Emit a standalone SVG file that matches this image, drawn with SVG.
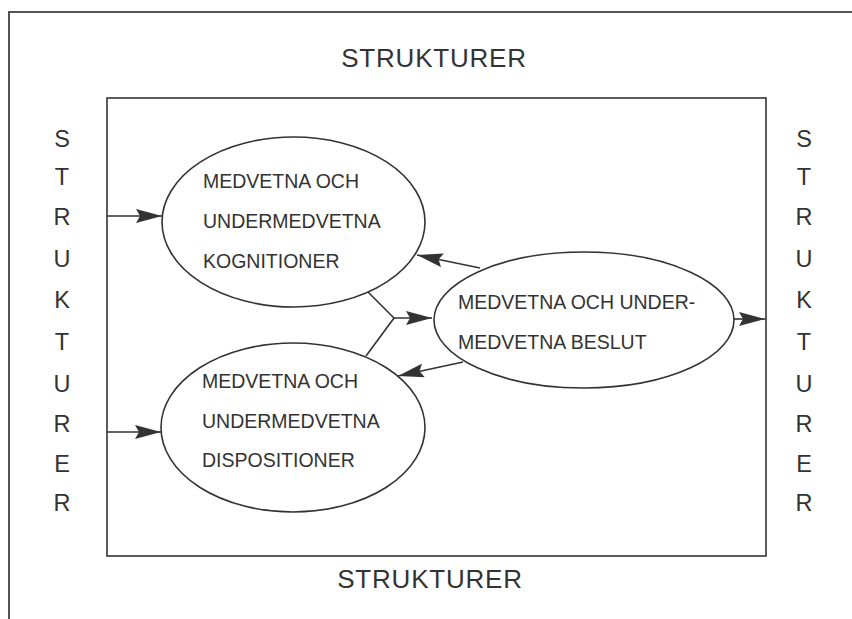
<svg xmlns="http://www.w3.org/2000/svg" width="852" height="619" viewBox="0 0 852 619">
<style>
.t{font-family:"Liberation Sans",Arial,sans-serif;fill:#333;}
.big{font-size:26px;letter-spacing:0.8px;}
.vert{font-size:23.5px;text-anchor:middle;}
.lbl{font-size:19.5px;}
.shape{fill:none;stroke:#333;stroke-width:1.6;}
.conn{fill:none;stroke:#333;stroke-width:1.6;}
</style>
<defs>
<marker id="ah" markerWidth="26" markerHeight="14" refX="26" refY="7" orient="auto" markerUnits="userSpaceOnUse">
<path d="M0,0 L26,7 L0,14 L4,7 Z" fill="#333"/>
</marker>
</defs>
<rect width="852" height="619" fill="#fff"/>
<g id="outer-frame">
<path d="M9,619 V12 H852" fill="none" stroke="#555" stroke-width="2"/>
</g>
<g id="inner-frame">
<rect x="107" y="98" width="659" height="458" class="shape"/>
</g>
<g id="label-top"><text class="t big" x="434" y="67" text-anchor="middle">STRUKTURER</text></g>
<g id="label-bottom"><text class="t big" x="430" y="588" text-anchor="middle">STRUKTURER</text></g>
<g id="label-left">
<text class="t vert" x="62" y="147">S</text>
<text class="t vert" x="62" y="185">T</text>
<text class="t vert" x="62" y="225">R</text>
<text class="t vert" x="62" y="267">U</text>
<text class="t vert" x="62" y="308">K</text>
<text class="t vert" x="62" y="350">T</text>
<text class="t vert" x="62" y="392">U</text>
<text class="t vert" x="62" y="432">R</text>
<text class="t vert" x="62" y="472">E</text>
<text class="t vert" x="62" y="511">R</text>
</g>
<g id="label-right">
<text class="t vert" x="804" y="147">S</text>
<text class="t vert" x="804" y="185">T</text>
<text class="t vert" x="804" y="225">R</text>
<text class="t vert" x="804" y="267">U</text>
<text class="t vert" x="804" y="308">K</text>
<text class="t vert" x="804" y="350">T</text>
<text class="t vert" x="804" y="392">U</text>
<text class="t vert" x="804" y="432">R</text>
<text class="t vert" x="804" y="472">E</text>
<text class="t vert" x="804" y="511">R</text>
</g>
<g id="node-kognitioner">
<ellipse cx="293.5" cy="222" rx="131.5" ry="85" class="shape"/>
<text class="t lbl" x="203" y="188">MEDVETNA OCH</text>
<text class="t lbl" x="203" y="228">UNDERMEDVETNA</text>
<text class="t lbl" x="203" y="268">KOGNITIONER</text>
</g>
<g id="node-dispositioner">
<ellipse cx="293" cy="427.5" rx="132" ry="84.5" class="shape"/>
<text class="t lbl" x="202" y="388">MEDVETNA OCH</text>
<text class="t lbl" x="202" y="428">UNDERMEDVETNA</text>
<text class="t lbl" x="202" y="467">DISPOSITIONER</text>
</g>
<g id="node-beslut">
<ellipse cx="584" cy="320" rx="150" ry="68" class="shape"/>
<text class="t lbl" x="458" y="309">MEDVETNA OCH UNDER-</text>
<text class="t lbl" x="458" y="349">MEDVETNA BESLUT</text>
</g>
<g id="connectors">
<line x1="107" y1="216" x2="162" y2="216" class="conn" marker-end="url(#ah)"/>
<line x1="107" y1="432" x2="161" y2="432" class="conn" marker-end="url(#ah)"/>
<polyline points="368,292 394,318 366,356" class="conn"/>
<line x1="394" y1="318" x2="432" y2="318" class="conn" marker-end="url(#ah)"/>
<line x1="480" y1="268" x2="417" y2="255" class="conn" marker-end="url(#ah)"/>
<line x1="463" y1="362" x2="398" y2="376" class="conn" marker-end="url(#ah)"/>
<line x1="734" y1="319" x2="765" y2="319" class="conn" marker-end="url(#ah)"/>
</g>
</svg>
